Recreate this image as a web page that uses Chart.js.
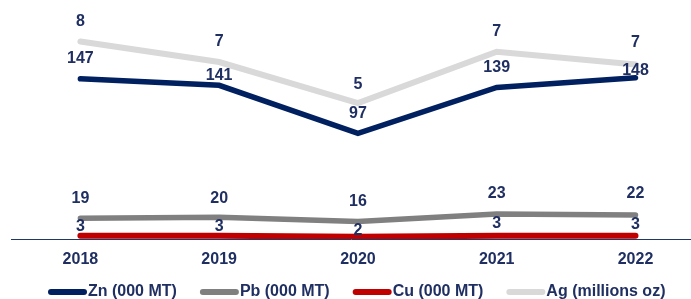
<!DOCTYPE html>
<html><head><meta charset="utf-8">
<script src="https://cdn.jsdelivr.net/npm/chart.js@4.4.0/dist/chart.umd.min.js"></script>
<style>html,body{margin:0;padding:0;background:#fff;overflow:hidden;}</style>
</head><body>
<canvas id="c" width="691" height="299"></canvas>
<script>
const years = ['2018', '2019', '2020', '2021', '2022'];
const zn = [147, 141, 97, 139, 148];
const pb = [19, 20, 16, 23, 22];
const cu = [3, 3, 2, 3, 3];
const ag = [7.7, 6.9, 5.3, 7.3, 6.8];
const seriesNames = ['Zn (000 MT)', 'Pb (000 MT)', 'Cu (000 MT)', 'Ag (millions oz)'];

const NAVY_TEXT = '#1F2F62';
const FONT = '"Liberation Sans", Arial, sans-serif';

const toXY = arr => arr.map((v, i) => ({x: i, y: v}));

const labelOffsets = [
  [20, 10, 20, 20, 7],
  [20, 19, 20, 20, 21],
  [9, 9, 6, 12, 11],
  [20, 20, 18, 20, 22]
];

const labelPlugin = {
  id: 'valueLabels',
  afterDatasetsDraw(chart) {
    const ctx = chart.ctx;
    ctx.save();
    ctx.font = 'bold 16px ' + FONT;
    ctx.fillStyle = NAVY_TEXT;
    ctx.textAlign = 'center';
    ctx.textBaseline = 'middle';
    chart.data.datasets.forEach((ds, di) => {
      const meta = chart.getDatasetMeta(di);
      meta.data.forEach((pt, i) => {
        const v = ds.data[i].y;
        ctx.fillText(String(Math.round(v)), pt.x, pt.y - labelOffsets[di][i]);
      });
    });
    ctx.restore();
  }
};

const legendPlugin = {
  id: 'customLegend',
  afterDraw(chart) {
    const ctx = chart.ctx;
    ctx.save();
    ctx.font = 'bold 16px ' + FONT;
    ctx.textBaseline = 'middle';
    ctx.textAlign = 'left';
    let x = 48;
    const y = 292;
    chart.data.datasets.forEach(ds => {
      ctx.strokeStyle = ds.borderColor;
      ctx.lineWidth = 6;
      ctx.lineCap = 'round';
      ctx.beginPath();
      ctx.moveTo(x + 3, y);
      ctx.lineTo(x + 36, y);
      ctx.stroke();
      ctx.fillStyle = NAVY_TEXT;
      const tx = x + 40;
      ctx.fillText(ds.label, tx, y);
      x = tx + ctx.measureText(ds.label).width + 23;
    });
    ctx.restore();
  }
};

const common = {fill: false, pointRadius: 0, pointHoverRadius: 0, tension: 0,
  borderCapStyle: 'round', borderJoinStyle: 'miter'};

new Chart(document.getElementById('c'), {
  type: 'line',
  data: {
    datasets: [
      Object.assign({label: seriesNames[0], data: toXY(zn), borderColor: '#002060', borderWidth: 5.5, yAxisID: 'y', order: 1}, common),
      Object.assign({label: seriesNames[1], data: toXY(pb), borderColor: '#808080', borderWidth: 5.5, yAxisID: 'y', order: 2}, common),
      Object.assign({label: seriesNames[2], data: toXY(cu), borderColor: '#C00000', borderWidth: 6, yAxisID: 'y', order: 0}, common),
      Object.assign({label: seriesNames[3], data: toXY(ag), borderColor: '#D9D9D9', borderWidth: 6, yAxisID: 'y1', order: 3}, common)
    ]
  },
  options: {
    responsive: false,
    animation: false,
    events: [],
    layout: {padding: {top: 21, left: 11, right: 0, bottom: 0}},
    plugins: {legend: {display: false}, tooltip: {enabled: false}},
    scales: {
      x: {
        type: 'linear', min: -0.5, max: 4.4,
        afterBuildTicks: s => { s.ticks = years.map((_, i) => ({value: i})); },
        afterFit: s => { s.height = 60; },
        grid: {display: false, drawTicks: false},
        border: {display: true, color: '#1F3864', width: 1},
        ticks: {
          callback: v => years[v] ?? '',
          color: NAVY_TEXT, font: {family: FONT, size: 16, weight: 'bold'},
          padding: 11, maxRotation: 0, autoSkip: false
        }
      },
      y: {display: false, min: 0, max: 200},
      y1: {display: false, min: 0, max: 8.5, position: 'right'}
    }
  },
  plugins: [labelPlugin, legendPlugin]
});
</script>
</body></html>
